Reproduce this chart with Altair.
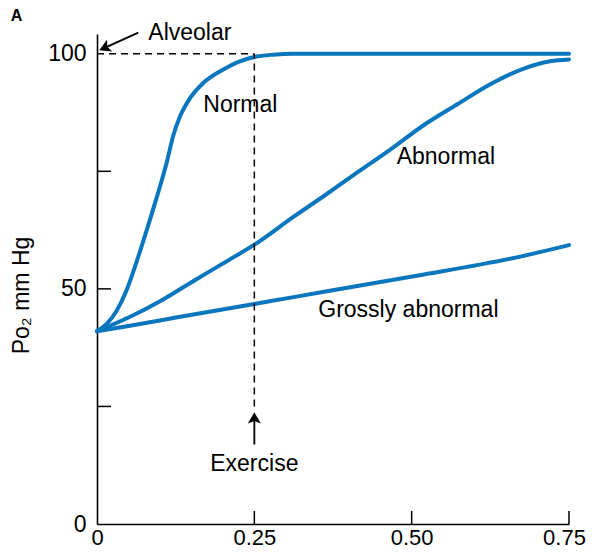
import altair as alt
import pandas as pd

FONT = "Liberation Sans"
BLUE = "#0a76bd"

# ---- curve data ----
normal_x = [0, 0.015, 0.031, 0.047, 0.063, 0.079, 0.095, 0.111, 0.121, 0.132,
            0.148, 0.169, 0.2, 0.227, 0.25, 0.28, 0.31, 0.5, 0.75]
normal_y = [41, 42.5, 45.3, 49.7, 55.8, 62.5, 69.5, 77.0, 82.5, 86.7,
            90.6, 93.8, 96.6, 98.4, 99.3, 99.8, 100, 100, 100]

abnormal_x = [0, 0.05, 0.103, 0.156, 0.209, 0.25, 0.312, 0.36, 0.413, 0.466,
              0.519, 0.572, 0.625, 0.677, 0.72, 0.75]
abnormal_y = [41, 43.9, 47.6, 51.9, 56.1, 59.4, 65.3, 69.7, 74.7, 79.6,
              84.8, 89.2, 93.5, 96.8, 98.4, 98.8]

gross_x = [0, 0.05, 0.13, 0.25, 0.315, 0.4, 0.508, 0.667, 0.75]
gross_y = [41, 42.1, 44.0, 46.8, 48.3, 50.3, 52.8, 56.7, 59.3]

# ---- axis ticks ----
x_tick_values = [0, 0.25, 0.5, 0.75]
y_tick_values = [0, 50, 100]
x_inner_ticks = [0.25, 0.5, 0.75]
y_inner_ticks = [25, 50, 75]

# ---- annotations ----
left_labels = ["Alveolar", "Normal", "Abnormal", "Grossly abnormal"]
left_label_x = [0.0815, 0.1689, 0.4762, 0.3516]
left_label_y = [103.0, 87.6, 76.5, 44.0]

center_labels = ["Exercise"]
center_label_x = [0.25]
center_label_y = [11.2]

panel_label = ["A"]
panel_label_x = [-0.128]
panel_label_y = [107.0]

alveolar_level = 100
exercise_rate = 0.25
exercise_dash_bottom = 25

arrow_x = [0.0656, 0.25]
arrow_y = [104.5, 16.9]
arrow_x2 = [0.013, 0.25]
arrow_y2 = [101.3, 22.4]
head_angle = [246, 0]

rows = []
for name, xs_, ys_ in [("Normal", normal_x, normal_y),
                       ("Abnormal", abnormal_x, abnormal_y),
                       ("Grossly abnormal", gross_x, gross_y)]:
    for a, b in zip(xs_, ys_):
        rows.append({"series": name, "x": a, "y": b})
curves = pd.DataFrame(rows)

xs = alt.Scale(domain=[0, 0.75], nice=False, zero=False)
ys = alt.Scale(domain=[0, 104.2], nice=False, zero=False)

x_axis = alt.Axis(values=x_tick_values, grid=False, ticks=False, tickSize=0,
                  labelExpr="datum.value == 0 ? '0' : format(datum.value, '.2f')",
                  labelFlush=False, labelPadding=3, labelFontSize=22,
                  labelOffset={"condition": {"test": "datum.value > 0.7", "value": -5}, "value": 0},
                  labelFont=FONT, labelColor="black", domainColor="black",
                  domainWidth=1.6, title=None)
y_axis = alt.Axis(values=y_tick_values, grid=False, ticks=False, tickSize=0,
                  labelFlush=False, labelPadding=11, labelFontSize=23,
                  labelFont=FONT, labelColor="black", domainColor="black",
                  domainWidth=1.6, title="Po\u2082 mm Hg", titleFont=FONT,
                  titleFontSize=23, titleFontWeight="normal", titleColor="black",
                  titleAngle=270, titleX=-69, titleY=261, titleAlign="center",
                  titleBaseline="alphabetic")


def X(field):
    return alt.X(field, scale=xs, axis=x_axis)


def Y(field):
    return alt.Y(field, scale=ys, axis=y_axis)


lines = alt.Chart(curves).mark_line(
    interpolate="monotone", strokeWidth=4, color=BLUE, strokeCap="round"
).encode(
    x=X("x:Q"), y=Y("y:Q"), detail="series:N",
)

ytick_df = pd.DataFrame({"v": y_inner_ticks})
yticks = alt.Chart(ytick_df).mark_rule(color="black", strokeWidth=1.5).encode(
    y=Y("v:Q"), x=alt.value(0), x2=alt.value(14),
)
xtick_df = pd.DataFrame({"v": x_inner_ticks})
xticks = alt.Chart(xtick_df).mark_rule(color="black", strokeWidth=1.5).encode(
    x=X("v:Q"), y=alt.value(490), y2=alt.value(477),
)

hdash = alt.Chart(pd.DataFrame({"x": [0], "x2": [exercise_rate], "y": [alveolar_level]})).mark_rule(
    color="black", strokeWidth=1.5, strokeDash=[7, 5]
).encode(
    x=X("x:Q"), x2="x2:Q", y=Y("y:Q"),
)
vdash = alt.Chart(pd.DataFrame({"x": [exercise_rate], "y": [exercise_dash_bottom], "y2": [alveolar_level]})).mark_rule(
    color="black", strokeWidth=1.5, strokeDash=[7, 5]
).encode(
    x=X("x:Q"), y=Y("y:Q"), y2="y2:Q",
)

arrow_df = pd.DataFrame({"x": arrow_x, "y": arrow_y, "x2": arrow_x2,
                         "y2": arrow_y2, "angle": head_angle})
shafts = alt.Chart(arrow_df).mark_rule(color="black", strokeWidth=1.8).encode(
    x=X("x:Q"), x2="x2:Q", y=Y("y:Q"), y2="y2:Q",
)
heads = alt.Chart(arrow_df).mark_point(
    shape="M0,-1L1,0.75L0,0.35L-1,0.75Z", filled=True, color="black",
    opacity=1, size=169, strokeWidth=0
).encode(
    x=X("x2:Q"), y=Y("y2:Q"),
    angle=alt.Angle("angle:Q", scale=None),
)

left_text = alt.Chart(pd.DataFrame({"t": left_labels, "x": left_label_x, "y": left_label_y})).mark_text(
    align="left", baseline="alphabetic", fontSize=23, font=FONT, color="black"
).encode(
    x=X("x:Q"), y=Y("y:Q"), text="t:N"
)
center_text = alt.Chart(pd.DataFrame({"t": center_labels, "x": center_label_x, "y": center_label_y})).mark_text(
    align="center", baseline="alphabetic", fontSize=23, font=FONT, color="black"
).encode(
    x=X("x:Q"), y=Y("y:Q"), text="t:N"
)
panel_text = alt.Chart(pd.DataFrame({"t": panel_label, "x": panel_label_x, "y": panel_label_y})).mark_text(
    align="center", baseline="alphabetic", fontSize=16, font=FONT, fontWeight="bold", color="black"
).encode(
    x=X("x:Q"), y=Y("y:Q"), text="t:N"
)

chart = alt.layer(
    lines, yticks, xticks, hdash, vdash, shafts, heads, left_text, center_text, panel_text
).properties(
    width=472, height=490,
    padding={"left": 89, "top": 26, "right": 18, "bottom": 26},
    autosize=alt.AutoSizeParams(type="none"),
).configure_view(stroke=None)

chart.save("out.html", embed_options={"renderer": "svg", "actions": False})
